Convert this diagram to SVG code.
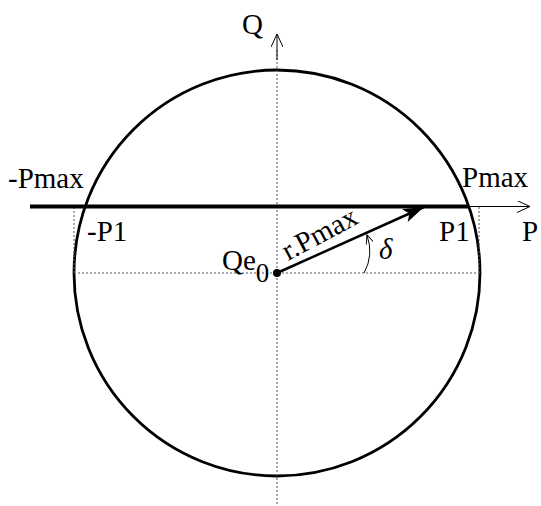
<svg xmlns="http://www.w3.org/2000/svg" width="541" height="506" viewBox="0 0 541 506">
<defs>
<style>
.lbl{font-family:"Liberation Serif","Times New Roman",serif;font-size:29px;fill:#000}
.dot{stroke:#555;stroke-width:1;stroke-dasharray:2 2;fill:none}
.thin{stroke:#000;stroke-width:1;fill:none}
</style>
<marker id="open" viewBox="0 0 14 12" refX="13" refY="6" markerWidth="14" markerHeight="12" markerUnits="userSpaceOnUse" orient="auto">
<path d="M0,0 L13,6 L0,12" fill="none" stroke="#000" stroke-width="1"/>
</marker>
<marker id="openSmall" viewBox="0 0 10 8" refX="9" refY="4" markerWidth="10" markerHeight="8" markerUnits="userSpaceOnUse" orient="auto">
<path d="M0,0 L9,4 L0,8" fill="none" stroke="#000" stroke-width="1"/>
</marker>
<marker id="solid" viewBox="0 0 22 14" refX="21" refY="7" markerWidth="22" markerHeight="14" markerUnits="userSpaceOnUse" orient="auto">
<path d="M0,0 L21,7 L0,14 L5,7 Z" fill="#000"/>
</marker>
</defs>
<g id="circle">
<circle cx="277" cy="273" r="203" fill="none" stroke="#000" stroke-width="2.8"/>
</g>
<g id="connectors">
<line class="dot" x1="74" y1="273" x2="480" y2="273"/>
<line class="dot" x1="74" y1="207" x2="74" y2="273"/>
<line class="dot" x1="479" y1="207" x2="479" y2="273"/>
<line class="dot" x1="277" y1="50" x2="277" y2="506"/>
<line class="thin" x1="277" y1="60" x2="277" y2="34" marker-end="url(#open)"/>
<line x1="30" y1="206.5" x2="469" y2="206.5" stroke="#000" stroke-width="4"/>
<line class="thin" x1="469" y1="206.5" x2="530" y2="206.5" marker-end="url(#open)"/>
<line x1="277" y1="273" x2="424" y2="207" stroke="#000" stroke-width="2.5" marker-end="url(#solid)"/>
<path class="thin" d="M364,273 Q374,255 367,235" marker-end="url(#openSmall)"/>
</g>
<g id="origin">
<circle cx="277" cy="273" r="4" fill="#000"/>
</g>
<g id="labels">
<text class="lbl" x="242" y="34">Q</text>
<text class="lbl" x="8" y="188">-Pmax</text>
<text class="lbl" x="462" y="187">Pmax</text>
<text class="lbl" x="87" y="241">-P1</text>
<text class="lbl" x="439" y="241">P1</text>
<text class="lbl" x="522" y="241">P</text>
<text class="lbl" x="222" y="270">Qe<tspan font-size="27" dy="12">0</tspan></text>
<text class="lbl" x="379" y="259" font-style="italic">δ</text>
<text class="lbl" transform="translate(288,261) rotate(-28)">r.Pmax</text>
</g>
</svg>
